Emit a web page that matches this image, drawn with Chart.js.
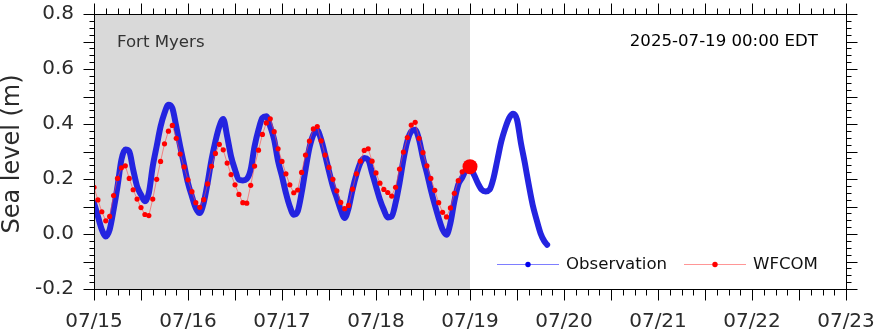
<!DOCTYPE html>
<html>
<head>
<meta charset="UTF-8">
<title>Fort Myers sea level</title>
<script src="https://cdn.jsdelivr.net/npm/chart.js@4"></script>
<style>
  body { margin: 0; background: #fff; }
</style>
</head>
<body>

<canvas id="levelChart" width="876" height="334"></canvas>

<script>
  // hours counted from 07/15 00:00 EDT
  const dayLabels = ['07/15', '07/16', '07/17', '07/18', '07/19', '07/20', '07/21', '07/22', '07/23'];
  const yTicks = [-0.2, 0.0, 0.2, 0.4, 0.6, 0.8];

  // observed water level, hourly from 07/15 00:00 (m)
  const obsLevel = [
    0.113, 0.064, 0.016, -0.009, 0.016, 0.088, 0.173, 0.270, 0.307, 0.300,
    0.234, 0.173, 0.143, 0.119, 0.149, 0.246, 0.319, 0.391, 0.440, 0.470,
    0.458, 0.391, 0.319, 0.252, 0.185, 0.137, 0.094, 0.076, 0.113, 0.185,
    0.270, 0.337, 0.391, 0.418, 0.355, 0.282, 0.234, 0.197, 0.195, 0.200,
    0.234, 0.319, 0.379, 0.422, 0.428, 0.391, 0.343, 0.265, 0.210, 0.149,
    0.100, 0.070, 0.082, 0.149, 0.234, 0.313, 0.361, 0.377, 0.343, 0.288,
    0.228, 0.173, 0.131, 0.088, 0.058, 0.094, 0.161, 0.216, 0.258, 0.276,
    0.270, 0.222, 0.173, 0.125, 0.088, 0.060, 0.064, 0.113, 0.185, 0.270,
    0.337, 0.373, 0.379, 0.343, 0.276, 0.222, 0.161, 0.107, 0.058, 0.016,
    -0.003, 0.040, 0.119, 0.179, 0.205, 0.234, 0.240, 0.216, 0.185, 0.161,
    0.155, 0.161, 0.203, 0.270, 0.337, 0.385, 0.422, 0.437, 0.416, 0.331,
    0.258, 0.179, 0.106, 0.052, 0.003, -0.027
  ];
  const obsEndHour = 115.7;
  const obsEndLevel = -0.039;

  // WFCOM model, hourly from 07/15 00:00 to 07/19 00:00 (m)
  const wfcomLevel = [
    0.170, 0.124, 0.081, 0.048, 0.064, 0.140, 0.202, 0.241, 0.248, 0.202,
    0.161, 0.127, 0.096, 0.071, 0.067, 0.127, 0.199, 0.264, 0.328, 0.374,
    0.395, 0.348, 0.291, 0.244, 0.197, 0.154, 0.114, 0.097, 0.125, 0.182,
    0.246, 0.293, 0.326, 0.306, 0.258, 0.216, 0.179, 0.144, 0.114, 0.112,
    0.177, 0.247, 0.305, 0.362, 0.404, 0.419, 0.372, 0.310, 0.264, 0.219,
    0.179, 0.150, 0.160, 0.224, 0.287, 0.338, 0.382, 0.391, 0.339, 0.287,
    0.242, 0.199, 0.157, 0.115, 0.092, 0.104, 0.163, 0.219, 0.265, 0.304,
    0.310, 0.265, 0.222, 0.185, 0.162, 0.151, 0.138, 0.170, 0.236, 0.298,
    0.351, 0.396, 0.406, 0.348, 0.296, 0.248, 0.202, 0.159, 0.114, 0.079,
    0.062, 0.095, 0.148, 0.194, 0.226, 0.237, 0.245
  ];
  const nowHour = 96; // 2025-07-19 00:00 EDT
</script>

<script>
  const obsPoints = obsLevel.map((v, i) => ({x: i, y: v}));
  obsPoints.push({x: obsEndHour, y: obsEndLevel});
  const wfcomPoints = wfcomLevel.map((v, i) => ({x: i, y: v}));
  const nowPoint = [{x: nowHour, y: wfcomLevel[nowHour]}];

  const FONT = 'DejaVu Sans';

  // grey hindcast area, frame with minor ticks, labels and legend
  const decor = {
    id: 'decor',
    beforeDatasetsDraw(chart) {
      const {ctx, chartArea: a, scales: {x}} = chart;
      ctx.save();
      ctx.fillStyle = '#d9d9d9';
      const x1 = x.getPixelForValue(nowHour);
      ctx.fillRect(a.left, a.top, x1 - a.left, a.bottom - a.top);
      ctx.restore();
    },
    afterDraw(chart) {
      const {ctx, chartArea: a, scales: {x, y}} = chart;
      ctx.save();
      ctx.strokeStyle = '#000';
      ctx.lineWidth = 1;
      const L = Math.round(a.left) + 0.5, R = Math.round(a.right) + 0.5;
      const T = Math.round(a.top) + 0.5, B = Math.round(a.bottom) + 0.5;
      ctx.strokeRect(L, T, R - L, B - T);
      ctx.beginPath();
      for (let h = x.min; h <= x.max; h += 3) {
        const px = Math.round(x.getPixelForValue(h)) + 0.5;
        const len = h % 12 === 0 ? 11 : 6;
        ctx.moveTo(px, B); ctx.lineTo(px, B + len);
        ctx.moveTo(px, T); ctx.lineTo(px, T - len);
      }
      for (let i = 0; i <= 40; i++) {
        const py = Math.round(y.getPixelForValue(y.min + i * 0.025)) + 0.5;
        const len = i % 4 === 0 ? 11 : 5;
        ctx.moveTo(L, py); ctx.lineTo(L - len, py);
        ctx.moveTo(R, py); ctx.lineTo(R + len, py);
      }
      ctx.stroke();

      // axis title
      ctx.fillStyle = '#2b2b2b';
      ctx.font = '24px "' + FONT + '"';
      ctx.textAlign = 'center';
      ctx.textBaseline = 'middle';
      ctx.translate(13, 154);
      ctx.rotate(-Math.PI / 2);
      ctx.fillText('Sea level (m)', 0, 0);
      ctx.setTransform(1, 0, 0, 1, 0, 0);

      ctx.font = '16.6px "' + FONT + '"';
      ctx.textAlign = 'left';
      ctx.fillStyle = '#333';
      ctx.fillText('Fort Myers', 117, 43);
      ctx.textAlign = 'right';
      ctx.fillStyle = '#000';
      ctx.fillText('2025-07-19 00:00 EDT', 818, 42);

      // legend
      const items = [
        {label: 'Observation', line: 'rgba(40,40,255,0.6)', dot: '#0000ee', x0: 497},
        {label: 'WFCOM', line: 'rgba(255,80,80,0.6)', dot: '#ff0000', x0: 684}
      ];
      const ly = 264.5;
      ctx.textAlign = 'left';
      items.forEach(it => {
        ctx.strokeStyle = it.line;
        ctx.beginPath();
        ctx.moveTo(it.x0, ly); ctx.lineTo(it.x0 + 62, ly);
        ctx.stroke();
        ctx.fillStyle = it.dot;
        ctx.beginPath();
        ctx.arc(it.x0 + 31, ly, 2.7, 0, Math.PI * 2);
        ctx.fill();
        ctx.fillStyle = '#111';
        ctx.fillText(it.label, it.x0 + 69, ly);
      });
      ctx.restore();
    }
  };

  new Chart('levelChart', {
    type: 'line',
    data: {
      datasets: [{
        label: 'now',
        data: nowPoint,
        showLine: false,
        pointRadius: 7.5,
        pointBackgroundColor: '#ff0000',
        pointBorderWidth: 0,
        order: 0
      }, {
        label: 'WFCOM',
        data: wfcomPoints,
        borderColor: 'rgba(255,70,70,0.6)',
        borderWidth: 1,
        pointRadius: 2.6,
        pointBackgroundColor: '#ff0000',
        pointBorderWidth: 0,
        order: 1
      }, {
        label: 'Observation',
        data: obsPoints,
        borderColor: '#2424e0',
        borderWidth: 6,
        borderCapStyle: 'round',
        borderJoinStyle: 'round',
        cubicInterpolationMode: 'monotone',
        pointRadius: 0,
        order: 2
      }]
    },
    options: {
      responsive: false,
      animation: false,
      devicePixelRatio: 1,
      layout: {padding: {top: 14, right: 30, left: 0, bottom: 0}},
      plugins: {legend: {display: false}, tooltip: {enabled: false}},
      scales: {
        x: {
          type: 'linear',
          min: 0,
          max: 192,
          grid: {display: false},
          border: {display: false},
          afterFit: s => {
            s.height = 45;
            s.paddingLeft = 0; s.paddingRight = 0;
          },
          afterBuildTicks: s => { s.ticks = dayLabels.map((d, i) => ({value: i * 24})); },
          ticks: {
            padding: 13,
            maxRotation: 0,
            autoSkip: false,
            color: '#2b2b2b',
            font: {family: FONT, size: 20},
            callback: v => dayLabels[v / 24]
          }
        },
        y: {
          min: -0.2,
          max: 0.8,
          grid: {display: false},
          border: {display: false},
          afterFit: s => {
            s.width = 94;
            s.paddingTop = 0; s.paddingBottom = 0;
          },
          afterBuildTicks: s => { s.ticks = yTicks.map(v => ({value: v})); },
          ticks: {
            padding: 12,
            color: '#2b2b2b',
            font: {family: FONT, size: 20},
            callback: v => v.toFixed(1)
          }
        }
      }
    },
    plugins: [decor]
  });
</script>
</body>
</html>
